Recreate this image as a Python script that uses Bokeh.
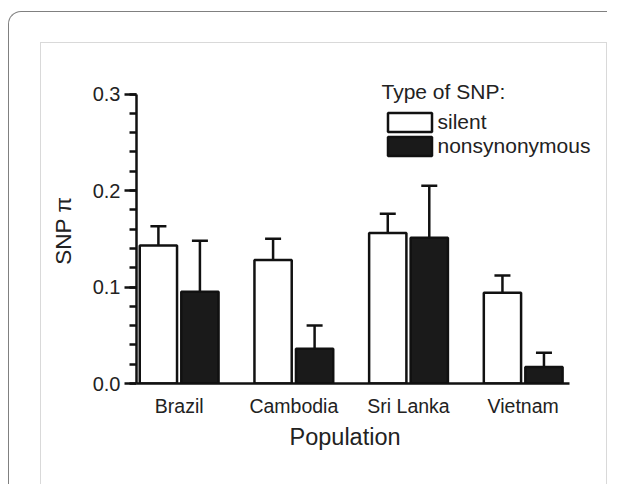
from bokeh.plotting import figure
from bokeh.layouts import column
from bokeh.models import (ColumnDataSource, Range1d, FixedTicker, PrintfTickFormatter,
                          Whisker, TeeHead, Legend, LegendItem, Title)
from bokeh.transform import dodge
from bokeh.embed import file_html
from bokeh.resources import INLINE

populations = ["Brazil", "Cambodia", "Sri Lanka", "Vietnam"]
silent = [0.143, 0.128, 0.156, 0.094]
silent_err = [0.163, 0.150, 0.176, 0.112]
nonsyn = [0.095, 0.036, 0.151, 0.017]
nonsyn_err = [0.148, 0.060, 0.205, 0.032]
y_ticks = [0.0, 0.1, 0.2, 0.3]
y_minor = [round(0.02 * i, 2) for i in range(16)]

FONT = "Liberation Sans"
TXT = "#222222"

src = ColumnDataSource(dict(idx=list(range(len(populations))), pop=populations,
                            silent=silent, silent_err=silent_err,
                            nonsyn=nonsyn, nonsyn_err=nonsyn_err))

# frame is enlarged up and right so the legend (which overhangs the axes) is not clipped;
# axis bounds keep the visible axes at their original extent
x_lo, x_hi, x_view_hi = -0.372, 3.403, 3.674
y_view_hi = 0.3234

p = figure(width=565, height=441, output_backend="svg", toolbar_location=None,
           x_range=Range1d(x_lo, x_view_hi), y_range=Range1d(0, y_view_hi),
           min_border_left=95, min_border_right=6, min_border_top=28, min_border_bottom=101)
p.outline_line_color = None
p.grid.visible = False
p.background_fill_color = "white"
p.border_fill_color = "white"

off = 0.181
bw = 0.325
r1 = p.vbar(x=dodge("idx", -off), top="silent", width=bw, source=src,
            fill_color="white", line_color="#111111", line_width=2.5)
r2 = p.vbar(x=dodge("idx", off), top="nonsyn", width=bw, source=src,
            fill_color="#1a1a1a", line_color="#111111", line_width=2.5)

for col, ecol, o in (("silent", "silent_err", -off), ("nonsyn", "nonsyn_err", off)):
    w = Whisker(base=dodge("idx", o), lower=col, upper=ecol, source=src, dimension="height",
                line_color="#111111", line_width=2.5,
                upper_head=TeeHead(size=16, line_color="#111111", line_width=2.5), lower_head=None)
    p.add_layout(w)

# axes
p.xaxis.bounds = (x_lo, x_hi)
p.xaxis.ticker = FixedTicker(ticks=list(range(len(populations))))
p.xaxis.major_label_overrides = {i: n for i, n in enumerate(populations)}
p.xaxis.major_tick_out = 0
p.xaxis.major_tick_in = 0
p.xaxis.minor_tick_out = 0
p.xaxis.minor_tick_in = 0

p.yaxis.bounds = (y_ticks[0], y_ticks[-1])
p.yaxis.ticker = FixedTicker(ticks=y_ticks, minor_ticks=y_minor)
p.yaxis.formatter = PrintfTickFormatter(format="%.1f")
p.yaxis.major_tick_out = 12
p.yaxis.major_tick_in = 0
p.yaxis.minor_tick_out = 7
p.yaxis.minor_tick_in = 0
p.yaxis.axis_label = "SNP  π"

for ax in (p.xaxis[0], p.yaxis[0]):
    ax.axis_line_width = 2.5
    ax.axis_line_color = "#111111"
    ax.major_tick_line_width = 2.5
    ax.major_tick_line_color = "#111111"
    ax.minor_tick_line_width = 2.5
    ax.minor_tick_line_color = "#111111"
    ax.major_label_text_font = FONT
    ax.major_label_text_color = TXT
    ax.axis_label_text_font = FONT
    ax.axis_label_text_color = TXT
    ax.axis_label_text_font_style = "normal"

p.xaxis.major_label_text_font_size = "19.5px"
p.xaxis.major_label_standoff = 11
p.yaxis.major_label_text_font_size = "20px"
p.yaxis.major_label_standoff = 4
p.yaxis.axis_label_text_font_size = "22.5px"
p.yaxis.axis_label_standoff = 14

xtitle = Title(text="Population", align="left", offset=153, standoff=4,
               text_font=FONT, text_font_size="23.5px", text_font_style="normal",
               text_color=TXT)
p.add_layout(xtitle, "below")

legend = Legend(items=[LegendItem(label="silent", renderers=[r1]),
                       LegendItem(label="nonsynonymous", renderers=[r2])],
                location=(246, 225), title="Type of SNP:",
                title_text_font=FONT, title_text_font_size="21px", title_text_color=TXT,
                title_text_font_style="normal", title_standoff=6,
                label_text_font=FONT, label_text_font_size="21px", label_text_color=TXT,
                glyph_width=55, glyph_height=24, label_standoff=1, spacing=0, padding=4, margin=0,
                border_line_color=None, background_fill_alpha=0)
p.add_layout(legend, "center")

inner = column(p, styles={"border-left": "1.5px solid #d9d9d9", "border-top": "1.5px solid #d9d9d9",
                          "border-right": "1.5px solid #d9d9d9"})
outer = column(inner, styles={"margin-left": "8px", "margin-top": "11px",
                              "border-left": "1.5px solid #808080", "border-top": "1.5px solid #808080",
                              "border-top-left-radius": "13px",
                              "padding-left": "30.5px", "padding-top": "29.5px"})

open("out.html", "w").write(file_html(outer, INLINE))
